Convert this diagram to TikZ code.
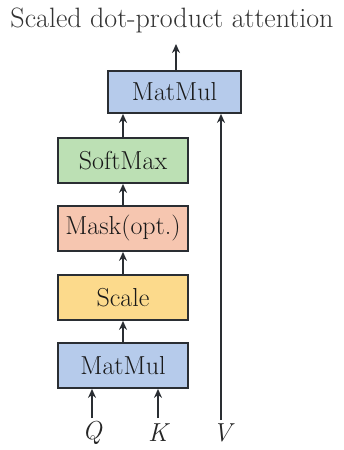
\documentclass[tikz,border=0pt]{standalone}
\usetikzlibrary{arrows.meta}
\definecolor{mmblue}{HTML}{B6CBEB}
\definecolor{smgreen}{HTML}{BCE0B4}
\definecolor{mksalmon}{HTML}{F6C6B0}
\definecolor{scyellow}{HTML}{FCDA8C}
\definecolor{edge}{HTML}{2A2E33}
\tikzset{
  opbox/.style={draw=edge, line width=1.8pt, minimum width=130pt, minimum height=45pt,
    inner sep=0pt, font=\fontsize{26}{30}\selectfont, text=black!90},
  flow/.style={draw=edge, line width=1.8pt, -{Stealth[length=9pt,width=8pt]}},
  lbl/.style={font=\fontsize{26}{30}\selectfont\itshape, text=black!85}
}
\begin{document}
\begin{tikzpicture}[x=1pt,y=-1pt]
  \useasboundingbox (0,0) rectangle (343,450);
  % title and operation boxes
  \node[font=\fontsize{28}{32}\selectfont, text=black!80] (title) at (172,20) {Scaled dot-product attention};
  \node[opbox, fill=mmblue, minimum width=133pt, minimum height=42pt] (mm2) at (174.5,92) {MatMul};
  \node[opbox, fill=smgreen] (sm) at (123,160.5) {SoftMax};
  \node[opbox, fill=mksalmon] (mk) at (123,228.5) {Mask(opt.)};
  \node[opbox, fill=scyellow] (sc) at (123,297.5) {Scale};
  \node[opbox, fill=mmblue] (mm1) at (123,365.5) {MatMul};
  % inputs
  \node[lbl] (q) at (92,433) {Q};
  \node[lbl] (k) at (158,433) {K};
  \node[lbl] (v) at (222,433) {V};
  \coordinate (out) at (176,44);
  \coordinate (qs) at (92,418);
  \coordinate (ks) at (158,418);
  \coordinate (vs) at (221,420);
  % connectors
  \draw[flow] (qs) -- (qs |- mm1.south);
  \draw[flow] (ks) -- (ks |- mm1.south);
  \draw[flow] (mm1.north) -- (sc.south);
  \draw[flow] (sc.north) -- (mk.south);
  \draw[flow] (mk.north) -- (sm.south);
  \draw[flow] (sm.north) -- (sm.north |- mm2.south);
  \draw[flow] (vs) -- (vs |- mm2.south);
  \draw[flow] (out |- mm2.north) -- (out);
\end{tikzpicture}
\end{document}
